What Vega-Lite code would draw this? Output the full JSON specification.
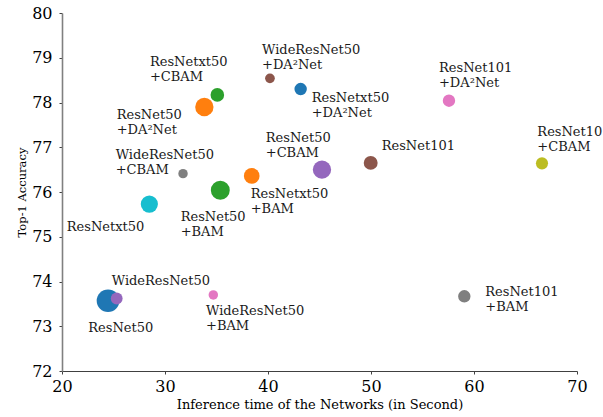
{
  "$schema": "https://vega.github.io/schema/vega-lite/v6.json",
  "autosize": {"type": "none"},
  "padding": {"left": 62, "top": 13, "right": 26, "bottom": 46},
  "width": 515,
  "height": 358,
  "background": "white",
  "config": {"view": {"stroke": null}},
  "data": {"values": [
    {"name": "ResNet50", "label": "ResNet50", "time": 24.47, "acc": 73.57, "s": 515, "tx": 22.55, "ty": 73.09},
    {"name": "WideResNet50", "label": "WideResNet50", "time": 25.31, "acc": 73.62, "s": 140, "tx": 24.83, "ty": 74.14},
    {"name": "ResNetxt50", "label": "ResNetxt50", "time": 28.48, "acc": 75.73, "s": 294, "tx": 20.46, "ty": 75.35},
    {"name": "WideResNet50+BAM", "label": "WideResNet50\n+BAM", "time": 34.69, "acc": 73.70, "s": 89, "tx": 33.98, "ty": 73.47},
    {"name": "WideResNet50+CBAM", "label": "WideResNet50\n+CBAM", "time": 31.75, "acc": 76.41, "s": 89, "tx": 25.21, "ty": 76.96},
    {"name": "ResNet50+BAM", "label": "ResNet50\n+BAM", "time": 35.37, "acc": 76.04, "s": 358, "tx": 31.52, "ty": 75.58},
    {"name": "ResNetxt50+CBAM", "label": "ResNetxt50\n+CBAM", "time": 35.08, "acc": 78.17, "s": 184, "tx": 28.54, "ty": 79.03},
    {"name": "ResNet50+DA2Net", "label": "ResNet50\n+DA²Net", "time": 33.82, "acc": 77.90, "s": 336, "tx": 25.31, "ty": 77.85},
    {"name": "ResNet50+CBAM", "label": "ResNet50\n+CBAM", "time": 38.42, "acc": 76.36, "s": 245, "tx": 39.78, "ty": 77.33},
    {"name": "WideResNet50+DA2Net", "label": "WideResNet50\n+DA²Net", "time": 40.19, "acc": 78.54, "s": 95, "tx": 39.42, "ty": 79.30},
    {"name": "ResNetxt50+DA2Net", "label": "ResNetxt50\n+DA²Net", "time": 43.17, "acc": 78.30, "s": 154, "tx": 44.24, "ty": 78.23},
    {"name": "ResNetxt50+BAM", "label": "ResNetxt50\n+BAM", "time": 45.24, "acc": 76.50, "s": 336, "tx": 38.32, "ty": 76.10},
    {"name": "ResNet101", "label": "ResNet101", "time": 49.97, "acc": 76.65, "s": 193, "tx": 51.04, "ty": 77.17},
    {"name": "ResNet101+DA2Net", "label": "ResNet101\n+DA²Net", "time": 57.57, "acc": 78.04, "s": 154, "tx": 56.60, "ty": 78.90},
    {"name": "ResNet101+CBAM", "label": "ResNet101\n+CBAM", "time": 66.60, "acc": 76.64, "s": 147, "tx": 66.15, "ty": 77.48},
    {"name": "ResNet101+BAM", "label": "ResNet101\n+BAM", "time": 59.06, "acc": 73.67, "s": 154, "tx": 61.10, "ty": 73.91}
  ]},
  "layer": [
    {
      "mark": {"type": "circle", "opacity": 1},
      "encoding": {
        "x": {"field": "time", "type": "quantitative",
          "scale": {"domain": [20, 70], "nice": false, "zero": false},
          "axis": {"values": [20, 30, 40, 50, 60, 70], "grid": false, "labelFlush": false, "title": "Inference time of the Networks (in Second)",
            "domainColor": "#404040", "domainWidth": 1, "tickColor": "#404040", "tickSize": 3, "tickWidth": 1,
            "labelFont": "DejaVu Serif", "labelFontSize": 16, "labelColor": "#000000", "labelPadding": 4,
            "titleFont": "DejaVu Serif", "titleFontSize": 13, "titleFontWeight": "normal", "titleColor": "#000000", "titlePadding": 4}},
        "y": {"field": "acc", "type": "quantitative",
          "scale": {"domain": [72, 80], "nice": false, "zero": false},
          "axis": {"values": [72, 73, 74, 75, 76, 77, 78, 79, 80], "grid": false, "labelFlush": false, "title": "Top-1 Accuracy",
            "domainColor": "#808080", "domainWidth": 1.6, "tickColor": "#404040", "tickSize": 3, "tickWidth": 1,
            "labelFont": "DejaVu Serif", "labelFontSize": 16, "labelColor": "#000000", "labelPadding": 7,
            "titleFont": "DejaVu Serif", "titleFontSize": 11.5, "titleFontWeight": "normal", "titleColor": "#000000", "titlePadding": 4}},
        "size": {"field": "s", "type": "quantitative", "scale": {"type": "linear", "domain": [0, 600], "range": [0, 600]}, "legend": null},
        "color": {"field": "name", "type": "nominal", "legend": null,
          "scale": {
            "domain": ["ResNet50", "WideResNet50", "ResNetxt50", "WideResNet50+BAM", "WideResNet50+CBAM", "ResNet50+BAM", "ResNetxt50+CBAM", "ResNet50+DA2Net", "ResNet50+CBAM", "WideResNet50+DA2Net", "ResNetxt50+DA2Net", "ResNetxt50+BAM", "ResNet101", "ResNet101+DA2Net", "ResNet101+CBAM", "ResNet101+BAM"],
            "range": ["#1f77b4", "#9467bd", "#17becf", "#e377c2", "#7f7f7f", "#2ca02c", "#2ca02c", "#ff7f0e", "#ff7f0e", "#8c564b", "#1f77b4", "#9467bd", "#8c564b", "#e377c2", "#bcbd22", "#7f7f7f"]}}
      }
    },
    {
      "mark": {"type": "text", "align": "left", "baseline": "top", "font": "DejaVu Serif", "fontSize": 13, "lineBreak": "\n", "lineHeight": 15, "color": "#1a1a1a"},
      "encoding": {
        "x": {"field": "tx", "type": "quantitative"},
        "y": {"field": "ty", "type": "quantitative"},
        "text": {"field": "label"}
      }
    }
  ]
}
